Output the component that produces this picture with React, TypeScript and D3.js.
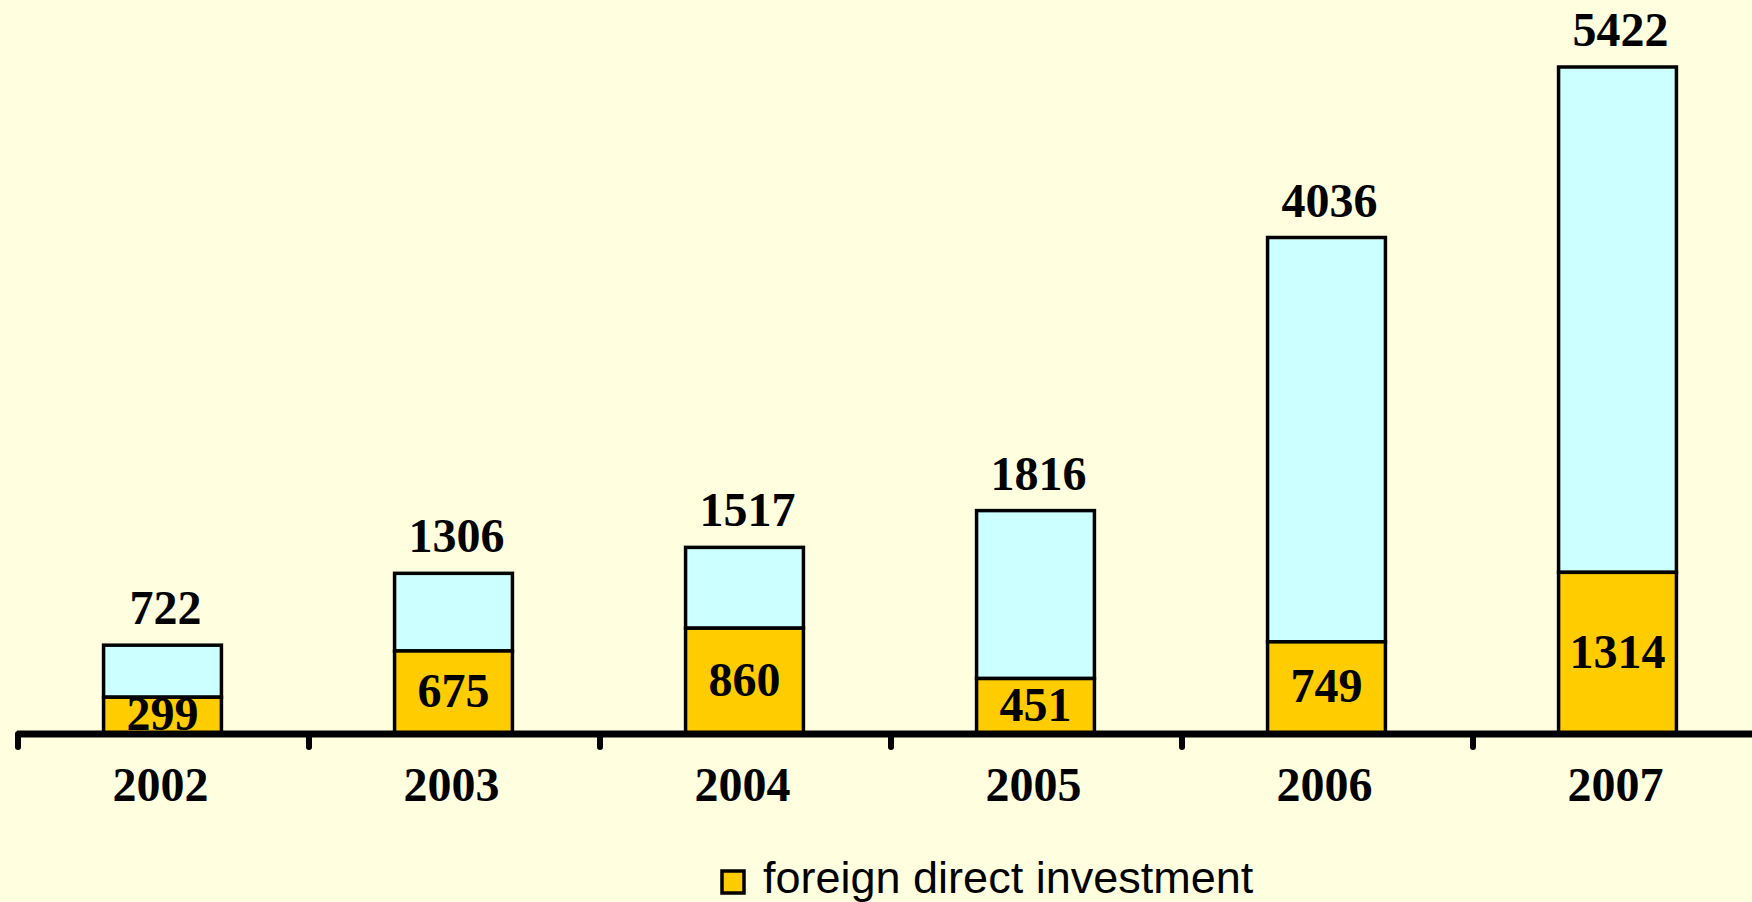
import React from "react";
import * as d3 from "d3";

const years = ["2002", "2003", "2004", "2005", "2006", "2007"];
const totals = [722, 1306, 1517, 1816, 4036, 5422];
const fdi = [299, 675, 860, 451, 749, 1314];
const legendLabel = "foreign direct investment";

const W = 1752;
const H = 902;

export default function App() {
  const x = d3.scaleBand<string>().domain(years).range([17, 1763]).paddingInner(0).paddingOuter(0);
  const y = d3.scaleLinear().domain([0, 5422]).range([734, 67]);
  const bw = x.bandwidth() * 0.405;
  const serif = "'Liberation Serif', 'Times New Roman', serif";
  const sans = "'Liberation Sans', Arial, sans-serif";
  const ticks = years.map((yr) => x(yr)!);
  return (
    <div style={{ position: "absolute", left: 0, top: 0 }}>
      <svg width={W} height={H} style={{ display: "block", background: "#FFFFE0" }}>
        <rect x={0} y={0} width={W} height={H} fill="#FFFFE0" />
        {years.map((yr, i) => {
          const cx = x(yr)! + x.bandwidth() / 2;
          const x0 = cx - bw / 2;
          return (
            <g key={yr}>
              <rect x={x0} y={y(totals[i])} width={bw} height={y(fdi[i]) - y(totals[i])} fill="#CCFFFF" stroke="#000" strokeWidth={3.5} />
              <rect x={x0} y={y(fdi[i])} width={bw} height={y(0) - y(fdi[i])} fill="#FFCC00" stroke="#000" strokeWidth={3.5} />
              <text x={cx + 3} y={y(totals[i]) - 21} textAnchor="middle" fontFamily={serif} fontWeight="bold" fontSize={48} fill="#000">
                {totals[i]}
              </text>
              <text x={cx} y={(y(fdi[i]) + y(0)) / 2} dy="0.3em" textAnchor="middle" fontFamily={serif} fontWeight="bold" fontSize={48} fill="#000">
                {fdi[i]}
              </text>
              <text x={cx - 2} y={801} textAnchor="middle" fontFamily={serif} fontWeight="bold" fontSize={48} fill="#000">
                {yr}
              </text>
            </g>
          );
        })}
        <line x1={17} x2={W + 10} y1={y(0)} y2={y(0)} stroke="#000" strokeWidth={7} />
        {ticks.map((t, i) => (
          <line key={i} x1={t + 1} x2={t + 1} y1={y(0)} y2={y(0) + 13} stroke="#000" strokeWidth={6} strokeLinecap="round" />
        ))}
        <rect x={722} y={871} width={22} height={22} fill="#FFCC00" stroke="#000" strokeWidth={3.5} />
        <text x={763} y={893} fontFamily={sans} fontSize={45} fill="#000">
          {legendLabel}
        </text>
      </svg>
    </div>
  );
}
